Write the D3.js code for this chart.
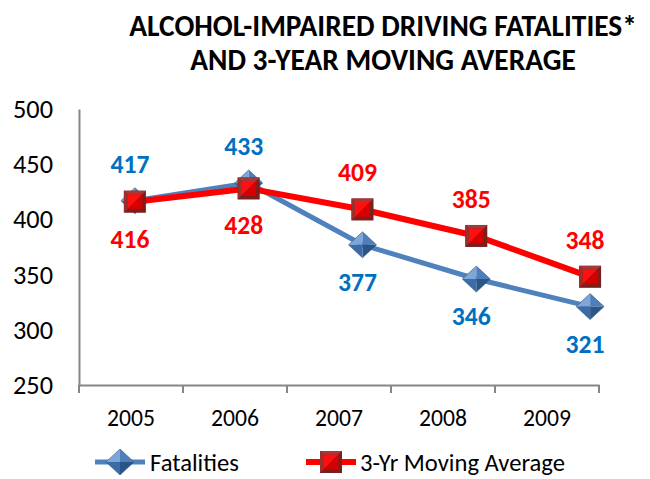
<!DOCTYPE html>
<html><head><meta charset="utf-8">
<script src="https://cdn.jsdelivr.net/npm/d3@7"></script>
<style>
body{margin:0;background:#fff;}
text{font-family:Carlito,Lato,"Liberation Sans",sans-serif;}
</style></head>
<body>
<svg id="chart" width="650" height="479"></svg>
<script>
const years = ["2005","2006","2007","2008","2009"];
const fatalities = [417,433,377,346,321];
const movingAvg = [416,428,409,385,348];
const yTicks = [250,300,350,400,450,500];
const titleLines = ["ALCOHOL-IMPAIRED DRIVING FATALITIES*","AND 3-YEAR MOVING AVERAGE"];
const seriesNames = ["Fatalities","3-Yr Moving Average"];
const fatLabelPos = ["above","above","below","below","below"];
const avgLabelPos = ["below","below","above","above","above"];

const svg = d3.select("#chart");
const blue = "#4F81BD", red = "#FF0000", blueText = "#0070C0";
const FONT = "Carlito,Lato,sans-serif";

// size a text so its width matches a target width
function fitSize(str, target, weight){
  const t = svg.append("text").attr("font-size",100).attr("font-weight",weight||"normal")
    .attr("font-family",FONT).text(str);
  const w = t.node().getComputedTextLength();
  t.remove();
  return 100*target/w;
}
const titleSize = fitSize(titleLines[0],508,"bold");
const tickSize = fitSize("500",40);
const xLabSize = fitSize("2005",48);
const legSize = fitSize(seriesNames[1],205);
const dataSize = fitSize("417",39,"bold");

// title
svg.selectAll("text.title").data(titleLines).enter().append("text")
  .attr("class","title").attr("x",383).attr("y",(d,i)=>36+i*34)
  .attr("text-anchor","middle").attr("font-size",titleSize).attr("font-weight","bold")
  .attr("fill","#000").text(d=>d);

const y = d3.scaleLinear().domain([250,500]).range([385,109]);
const xAxisScale = d3.scaleBand().domain(years).range([79,599]);
const xPts = d3.scaleBand().domain(years).range([78,647]);
const px = d => xPts(d)+xPts.bandwidth()/2;

// axes
const axisColor = "#868686";
const yAx = svg.append("g").attr("transform","translate(79,0)")
  .call(d3.axisLeft(y).tickValues(yTicks).tickSize(0).tickPadding(26));
yAx.select(".domain").attr("stroke",axisColor).attr("stroke-width",2);
yAx.selectAll("text").attr("font-size",tickSize).attr("fill","#000").attr("font-family",FONT);

const xAx = svg.append("g").attr("transform","translate(0,385)")
  .call(d3.axisBottom(xAxisScale).tickSize(0).tickPadding(24));
xAx.select(".domain").attr("stroke",axisColor).attr("stroke-width",2);
xAx.selectAll("text").attr("font-size",xLabSize).attr("fill","#000").attr("font-family",FONT);
// boundary ticks
const bounds = years.map(d=>xAxisScale(d)).concat([xAxisScale(years[4])+xAxisScale.bandwidth()]);
xAx.selectAll("line.bt").data(bounds).enter().append("line")
  .attr("x1",d=>d).attr("x2",d=>d).attr("y1",0).attr("y2",8)
  .attr("stroke",axisColor).attr("stroke-width",2);

// lines
const line = d3.line().x(d=>px(d.year)).y(d=>y(d.v));
const fatData = years.map((yr,i)=>({year:yr,v:fatalities[i],pos:fatLabelPos[i]}));
const avgData = years.map((yr,i)=>({year:yr,v:movingAvg[i],pos:avgLabelPos[i]}));

svg.append("path").datum(fatData).attr("d",line).attr("fill","none")
  .attr("stroke",blue).attr("stroke-width",5).attr("stroke-linejoin","round");

function diamond(g,cx,cy){
  const w=14,h=13;
  const T=[cx,cy-h],R=[cx+w,cy],B=[cx,cy+h],L=[cx-w,cy],C=[cx,cy];
  const facets=[[L,T,C,"#7EA6D8"],[T,R,C,"#4F7FBB"],[R,B,C,"#2B5587"],[B,L,C,"#3D6BA5"]];
  facets.forEach(f=>g.append("path").attr("d",d3.line()([f[0],f[1],f[2]])+"Z").attr("fill",f[3]));
  g.append("path").attr("d",d3.line()([T,R,B,L])+"Z").attr("fill","none").attr("stroke","#2D5585").attr("stroke-width",0.6);
}
function square(g,cx,cy){
  const s=11,i=7.5;
  g.append("rect").attr("x",cx-s).attr("y",cy-s).attr("width",2*s).attr("height",2*s).attr("fill","#7A1E1E");
  g.append("path").attr("d",d3.line()([[cx-s,cy-s],[cx+s,cy-s],[cx+i,cy-i],[cx-i,cy-i]])+"Z").attr("fill","#A33A3A");
  g.append("path").attr("d",d3.line()([[cx-s,cy-s],[cx-s,cy+s],[cx-i,cy+i],[cx-i,cy-i]])+"Z").attr("fill","#992F2F");
  g.append("path").attr("d",d3.line()([[cx-i,cy-i],[cx+i,cy-i],[cx-i,cy+i]])+"Z").attr("fill","#FF1010");
  g.append("path").attr("d",d3.line()([[cx+i,cy-i],[cx+i,cy+i],[cx-i,cy+i]])+"Z").attr("fill","#D60000");
}

const fm = svg.append("g");
fatData.forEach(d=>diamond(fm,px(d.year),y(d.v)));

svg.append("path").datum(avgData).attr("d",line).attr("fill","none")
  .attr("stroke",red).attr("stroke-width",6).attr("stroke-linejoin","round");
const am = svg.append("g");
avgData.forEach(d=>square(am,px(d.year),y(d.v)));

// data labels
function labels(data,color){
  svg.append("g").selectAll("text").data(data).enter().append("text")
    .attr("x",d=>px(d.year)-5)
    .attr("y",d=>y(d.v)+(d.pos==="above"?-37:37))
    .attr("dy","0.35em").attr("text-anchor","middle")
    .attr("font-size",dataSize).attr("font-weight","bold").attr("fill",color)
    .text(d=>d.v);
}
labels(fatData,blueText);
labels(avgData,red);

// legend
const LY = 462;
const lg = svg.append("g");
lg.append("line").attr("x1",95).attr("x2",145).attr("y1",LY).attr("y2",LY).attr("stroke",blue).attr("stroke-width",5);
diamond(lg,120,LY);
lg.append("text").attr("x",150).attr("y",LY).attr("dy","0.35em").attr("font-size",legSize).attr("fill","#000").text(seriesNames[0]);
lg.append("line").attr("x1",306).attr("x2",356).attr("y1",LY).attr("y2",LY).attr("stroke",red).attr("stroke-width",6);
square(lg,331,LY);
lg.append("text").attr("x",360).attr("y",LY).attr("dy","0.35em").attr("font-size",legSize).attr("fill","#000").text(seriesNames[1]);
</script>
</body></html>
